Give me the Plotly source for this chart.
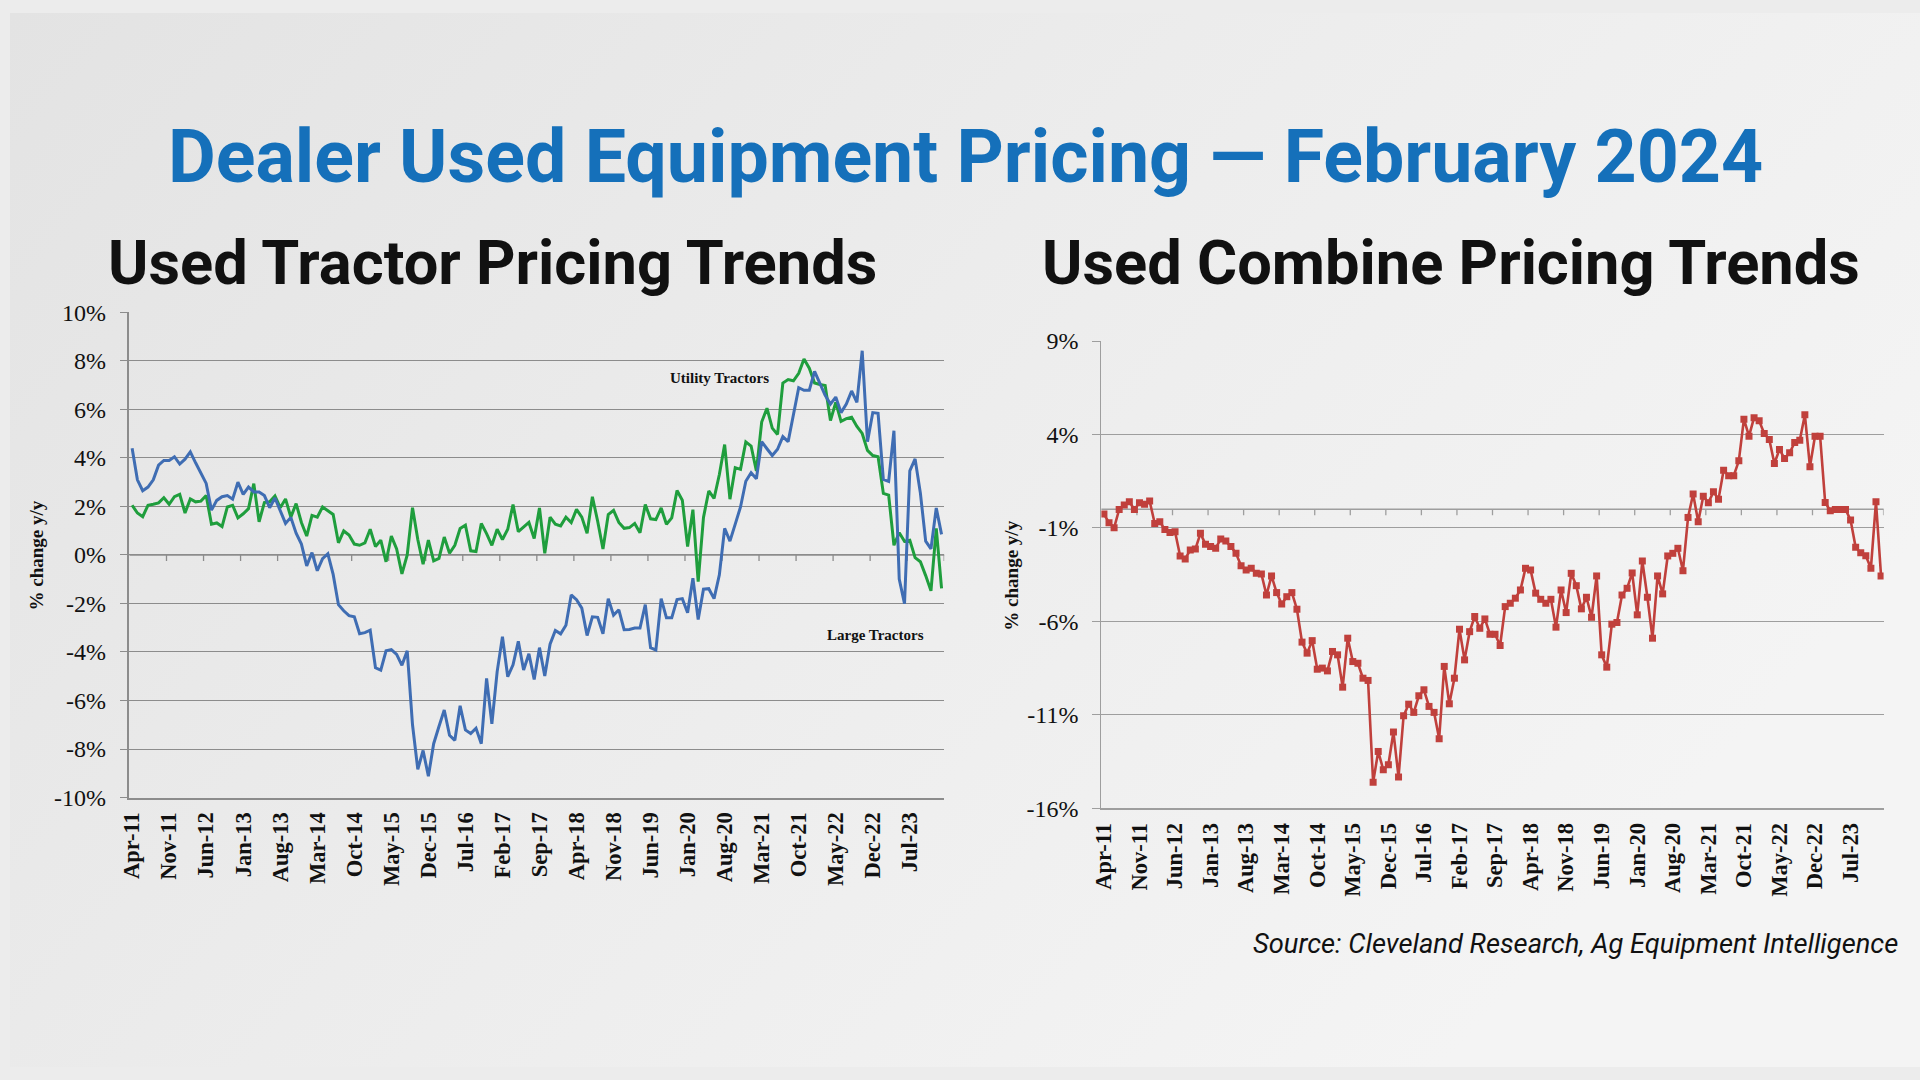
import base64
import pandas as pd
import plotly.graph_objects as go

# ---------------- data ----------------
MONTHS = pd.date_range("2011-04-01", periods=154, freq="MS").strftime("%b-%y").tolist()

TICK_LABELS = ["Apr-11", "Nov-11", "Jun-12", "Jan-13", "Aug-13", "Mar-14", "Oct-14",
               "May-15", "Dec-15", "Jul-16", "Feb-17", "Sep-17", "Apr-18", "Nov-18",
               "Jun-19", "Jan-20", "Aug-20", "Mar-21", "Oct-21", "May-22", "Dec-22",
               "Jul-23"]

LARGE_TRACTORS = [
    4.4, 3.1, 2.65, 2.8, 3.1, 3.7, 3.9, 3.9, 4.05, 3.75, 3.95, 4.25, 3.8, 3.4, 2.95,
    1.85, 2.25, 2.4, 2.45, 2.3, 3.0, 2.5, 2.8, 2.6, 2.6, 2.45, 1.95, 2.35, 1.85, 1.3,
    1.55, 0.9, 0.45, -0.45, 0.1, -0.65, -0.15, 0.05, -0.8, -2.05, -2.3, -2.5, -2.55, -3.25, -3.2,
    -3.1, -4.65, -4.75, -3.95, -3.9, -4.1, -4.55, -3.95, -7.0, -8.84, -8.06, -9.12, -7.78, -7.07, -6.39,
    -7.43, -7.64, -6.22, -7.21, -7.36, -7.14, -7.78, -5.09, -6.96, -4.81, -3.37, -5.02, -4.53, -3.56, -4.74,
    -4.07, -5.13, -3.82, -4.99, -3.68, -3.11, -3.25, -2.90, -1.65, -1.84, -2.19, -3.32, -2.55, -2.57, -3.25,
    -1.80, -2.48, -2.26, -3.08, -3.07, -3.01, -3.01, -2.05, -3.82, -3.92, -1.80, -2.59, -2.59, -1.84, -1.80,
    -2.38, -0.96, -2.66, -1.41, -1.39, -1.80, -0.82, 1.10, 0.57, 1.27, 1.98, 3.04, 3.39, 3.14, 4.67,
    4.38, 4.10, 4.36, 4.88, 4.67, 5.80, 6.90, 6.79, 6.79, 7.57, 7.10, 6.58, 6.22, 6.51, 5.87,
    6.22, 6.76, 6.29, 8.42, 4.67, 5.87, 5.84, 3.11, 3.03, 5.12, -0.99, -2.01, 3.47, 3.96, 2.55,
    0.57, 0.25, 1.94, 0.85,
]

UTILITY_TRACTORS = [
    2.05, 1.73, 1.58, 2.05, 2.09, 2.15, 2.36, 2.09, 2.40, 2.50, 1.73, 2.31, 2.19, 2.22, 2.45,
    1.27, 1.32, 1.17, 1.98, 2.05, 1.53, 1.70, 1.91, 2.94, 1.37, 2.16, 2.19, 2.43, 1.95, 2.31,
    1.56, 2.12, 1.34, 0.78, 1.63, 1.56, 1.98, 1.84, 1.67, 0.50, 0.99, 0.82, 0.45, 0.40, 0.50,
    1.06, 0.35, 0.61, -0.28, 0.78, 0.25, -0.78, 0.0, 1.95, 0.64, -0.38, 0.61, -0.24, -0.14, 0.74,
    0.07, 0.40, 1.09, 1.23, 0.17, 0.14, 1.30, 0.88, 0.40, 1.06, 0.64, 1.06, 2.08, 0.96, 1.16,
    1.34, 0.68, 1.94, 0.07, 1.56, 1.27, 1.20, 1.56, 1.34, 1.88, 1.56, 0.89, 2.40, 1.39, 0.25,
    1.67, 1.84, 1.34, 1.10, 1.13, 1.30, 0.92, 2.08, 1.49, 1.46, 1.94, 1.27, 1.53, 2.66, 2.26,
    0.35, 1.87, -1.1, 1.55, 2.64, 2.33, 3.32, 4.55, 2.30, 3.60, 3.53, 4.66, 4.49, 3.46, 5.48,
    6.05, 5.23, 4.97, 7.09, 7.23, 7.18, 7.49, 8.08, 7.70, 7.09, 7.03, 6.99, 5.54, 6.29, 5.51,
    5.62, 5.68, 5.30, 5.01, 4.31, 4.10, 4.05, 2.54, 2.47, 0.40, 0.92, 0.56, 0.61, -0.11, -0.28,
    -0.85, -1.48, 1.1, -1.38,
]

COMBINES = [
    -0.26, -0.72, -0.99, -0.01, 0.22, 0.40, -0.01, 0.35, 0.27, 0.44, -0.76, -0.67, -1.08, -1.24, -1.20,
    -2.50, -2.66, -2.18, -2.13, -1.29, -1.88, -2.00, -2.09, -1.59, -1.70, -2.00, -2.36, -3.02, -3.25, -3.16,
    -3.43, -3.46, -4.59, -3.57, -4.46, -5.07, -4.68, -4.46, -5.35, -7.11, -7.70, -7.03, -8.56, -8.50, -8.65,
    -7.61, -7.79, -9.52, -6.90, -8.15, -8.24, -9.04, -9.16, -14.61, -12.96, -13.94, -13.67, -11.92, -14.33, -11.05,
    -10.43, -10.87, -9.98, -9.66, -10.55, -10.87, -12.28, -8.41, -10.41, -9.04, -6.42, -8.06, -6.55, -5.74, -6.37,
    -5.87, -6.69, -6.69, -7.29, -5.21, -5.03, -4.76, -4.32, -3.16, -3.25, -4.49, -4.82, -5.03, -4.82, -6.31,
    -4.32, -5.53, -3.43, -4.09, -5.33, -4.71, -5.78, -3.57, -7.79, -8.45, -6.15, -6.06, -4.59, -4.23, -3.41,
    -5.65, -2.77, -4.71, -6.90, -3.57, -4.53, -2.50, -2.36, -2.09, -3.29, -0.44, 0.81, -0.67, 0.70, 0.35,
    0.93, 0.54, 2.09, 1.79, 1.79, 2.59, 4.82, 3.91, 4.90, 4.73, 4.05, 3.73, 2.45, 3.20, 2.71,
    3.02, 3.57, 3.69, 5.06, 2.27, 3.91, 3.91, 0.36, -0.08, -0.01, -0.01, -0.01, -0.58, -2.04, -2.33,
    -2.49, -3.16, 0.40, -3.57,
]

TRACTOR_YTICKS = [-10, -8, -6, -4, -2, 0, 2, 4, 6, 8, 10]
COMBINE_YTICKS = [-16, -11, -6, -1, 4, 9]

# ---------------- styling ----------------
SERIF = "Liberation Serif, Times New Roman, serif"
SANS = "Roboto, Liberation Sans, Arial, sans-serif"
GRID_L = "#8c8c8c"
GRID_R = "#9e9e9e"
BLUE = "#3f6db3"
GREEN = "#1f9e3d"
RED = "#c0403c"

# category boundaries every 7 months (axis tick marks on the 0% line)
BOUNDARIES = [7 * k - 0.5 for k in range(1, 23)]

fig = go.Figure()

fig.add_trace(go.Scatter(x=MONTHS, y=UTILITY_TRACTORS, mode="lines", name="Utility Tractors",
                         line=dict(color=GREEN, width=3), xaxis="x", yaxis="y"))
fig.add_trace(go.Scatter(x=MONTHS, y=LARGE_TRACTORS, mode="lines", name="Large Tractors",
                         line=dict(color=BLUE, width=3), xaxis="x", yaxis="y"))
fig.add_trace(go.Scatter(x=MONTHS, y=COMBINES, mode="lines+markers", name="Combines",
                         line=dict(color=RED, width=2.6),
                         marker=dict(symbol="square", size=7, color=RED),
                         xaxis="x2", yaxis="y2"))

xcommon = dict(type="category", range=[-0.5, 153.5], tickmode="array", tickvals=TICK_LABELS,
               tickangle=-90, tickfont=dict(family=SERIF, size=22.5, color="#111", weight="bold"),
               showgrid=False, zeroline=False, ticks="", showline=True, linewidth=1.5,
               ticklabelstandoff=4, fixedrange=True)

ycommon = dict(tickmode="array", tickfont=dict(family=SERIF, size=24, color="#111"),
               showgrid=True, zeroline=False, showline=True,
               ticks="outside", ticklen=8, ticklabelstandoff=9, fixedrange=True)

fig.update_layout(
    width=1920, height=1080,
    margin=dict(l=0, r=0, t=0, b=0),
    paper_bgcolor="#ececec", plot_bgcolor="rgba(0,0,0,0)",
    showlegend=False,
    xaxis=dict(domain=[0.06255, 0.48911], anchor="y", linecolor=GRID_L, **xcommon),
    yaxis=dict(domain=[0.25565, 0.71593], anchor="x", range=[-10, 10],
               tickvals=TRACTOR_YTICKS, ticktext=[f"{v}%" for v in TRACTOR_YTICKS],
               gridcolor=GRID_L, gridwidth=1.4, linecolor=GRID_L, linewidth=1.5,
               tickcolor=GRID_L, tickwidth=1.4, **ycommon),
    xaxis2=dict(domain=[0.57141, 0.98094], anchor="y2", linecolor=GRID_R, **xcommon),
    yaxis2=dict(domain=[0.24546, 0.68880], anchor="x2", range=[-16, 9],
                tickvals=COMBINE_YTICKS, ticktext=[f"{v}%" for v in COMBINE_YTICKS],
                gridcolor=GRID_R, gridwidth=1.3, linecolor=GRID_R, linewidth=1.4,
                tickcolor=GRID_R, tickwidth=1.3, **ycommon),
)

# 0% horizontal axis with tick marks at category boundaries
shapes = []
for xr, yr, col in (("x", "y", GRID_L), ("x2", "y2", GRID_R)):
    shapes.append(dict(type="line", xref=f"{xr} domain", x0=0, x1=1, yref=yr, y0=0, y1=0,
                       line=dict(color=col, width=1.4), layer="below"))
    for b in BOUNDARIES:
        shapes.append(dict(type="line", xref=xr, x0=b, x1=b, yref=yr, ysizemode="pixel",
                           yanchor=0, y0=0, y1=-6, line=dict(color=col, width=1.3),
                           layer="below"))
fig.update_layout(shapes=shapes)

# background gradient
svg = ('<svg xmlns="http://www.w3.org/2000/svg" width="1920" height="1080">'
       '<defs><linearGradient id="g" x1="0" y1="0" x2="1" y2="0.5">'
       '<stop offset="0" stop-color="#e3e3e3"/><stop offset="0.5" stop-color="#ececec"/>'
       '<stop offset="1" stop-color="#f4f4f4"/></linearGradient></defs>'
       '<rect width="1920" height="1080" fill="url(#g)"/></svg>')
fig.add_layout_image(dict(source="data:image/svg+xml;base64," + base64.b64encode(svg.encode()).decode(),
                          xref="paper", yref="paper", x=0, y=1, sizex=1, sizey=1,
                          xanchor="left", yanchor="top", sizing="stretch", layer="below"))

def note(text, x, y, size, family=SERIF, color="#111", angle=0, xanchor="center", weight=None):
    f = dict(family=family, size=size, color=color)
    if weight:
        f["weight"] = weight
    return dict(text=text, x=x, y=y, xref="paper", yref="paper", showarrow=False,
                xanchor=xanchor, yanchor="middle", textangle=angle, font=f)

ann = [
    note("Dealer Used Equipment Pricing — February 2024", 0.5003, 0.863, 73.5,
         family=SANS, color="#1570ba", weight="bold"),
    note("Used Tractor Pricing Trends", 0.2528, 0.7629, 61.4, family=SANS, weight="bold"),
    note("Used Combine Pricing Trends", 0.7542, 0.7629, 61.4, family=SANS, weight="bold"),
    note("<i>Source: Cleveland Research, Ag Equipment Intelligence</i>", 0.9893, 0.1167, 27.3,
         family=SANS, xanchor="right"),
    note("<b>% change y/y</b>", 0.0140, 0.485, 19, angle=-90),
    note("<b>% change y/y</b>", 0.5242, 0.4664, 19, angle=-90),
    note("<b>Utility Tractors</b>", 0.3717, 0.6538, 15),
    note("<b>Large Tractors</b>", 0.4531, 0.4097, 15),
]
fig.update_layout(annotations=ann)

POST = ("document.documentElement.style.margin='0';"
        "document.documentElement.style.overflow='hidden';"
        "document.body.style.margin='0';document.body.style.overflow='hidden';"
        "document.body.style.background='#e9e9e9';"
        "var d=document.getElementById('{plot_id}');"
        "d.style.position='fixed';d.style.left='0px';d.style.top='0px';")

fig.write_html("out.html", config={"displayModeBar": False}, post_script=POST)
